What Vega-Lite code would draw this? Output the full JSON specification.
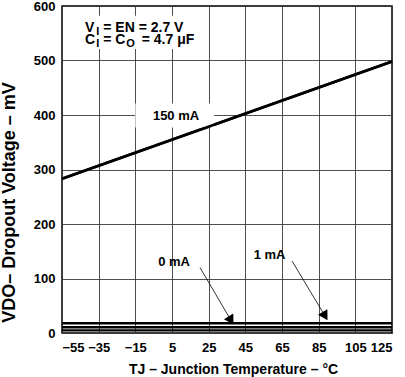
{
  "$schema": "https://vega.github.io/schema/vega-lite/v6.json",
  "autosize": "none",
  "width": 330,
  "height": 327,
  "padding": {"left": 62, "top": 6, "right": 13, "bottom": 44},
  "background": "white",
  "config": {
    "view": {"stroke": "black", "strokeWidth": 1.5},
    "font": "Liberation Sans",
    "axis": {
      "labelFont": "Liberation Sans",
      "labelFontWeight": "bold",
      "labelFontSize": 13,
      "labelColor": "black",
      "titleFont": "Liberation Sans",
      "titleFontWeight": "bold",
      "titleFontSize": 14,
      "titleColor": "black",
      "domain": false,
      "ticks": false,
      "grid": true,
      "gridColor": "#3a3a3a",
      "gridWidth": 0.9
    }
  },
  "datasets": {
    "lines": [
      {"series": "150 mA", "T": -55, "mV": 283},
      {"series": "150 mA", "T": 125, "mV": 498},
      {"series": "1 mA", "T": -55, "mV": 18},
      {"series": "1 mA", "T": 125, "mV": 18},
      {"series": "mid", "T": -55, "mV": 10.5},
      {"series": "mid", "T": 125, "mV": 10.5},
      {"series": "0 mA", "T": -55, "mV": 5},
      {"series": "0 mA", "T": 125, "mV": 5}
    ],
    "box": [
      {"T": -15, "T2": 28, "mV": 377, "mV2": 421},
      {"T": -46, "T2": 20, "mV": 521, "mV2": 582}
    ],
    "labels": [
      {"label": "150 mA", "T": 7.2, "mV": 399},
      {"label": "0 mA", "T": 6.1, "mV": 131},
      {"label": "1 mA", "T": 58.2, "mV": 143}
    ],
    "arrows": [
      {"name": "0 mA", "T": 20.3, "mV": 120, "T2": 37.2, "mV2": 23},
      {"name": "1 mA", "T": 70.5, "mV": 132, "T2": 88.5, "mV2": 31}
    ],
    "heads": [
      {"name": "0 mA", "T": 37.2, "mV": 23},
      {"name": "1 mA", "T": 88.5, "mV": 31}
    ],
    "notes": [
      {"text": "V", "T": -42.5, "mV": 553},
      {"text": "= EN = 2.7 V", "T": -32.5, "mV": 553},
      {"text": "C", "T": -42.5, "mV": 530},
      {"text": "= C", "T": -32.5, "mV": 530},
      {"text": "= 4.7 μF", "T": -11.5, "mV": 530}
    ],
    "subs": [
      {"text": "I", "T": -36.3, "mV": 547},
      {"text": "I", "T": -36.3, "mV": 524},
      {"text": "O", "T": -19.9, "mV": 524}
    ]
  },
  "encoding": {
    "x": {
      "field": "T", "type": "quantitative",
      "scale": {"domain": [-55, 125], "nice": false, "zero": false},
      "axis": {
        "values": [-55, -35, -15, 5, 25, 45, 65, 85, 105, 125],
        "title": "TJ – Junction Temperature – °C",
        "labelPadding": 8,
        "titleY": 40,
        "titleBaseline": "alphabetic",
        "titleX": 171
      }
    },
    "y": {
      "field": "mV", "type": "quantitative",
      "scale": {"domain": [0, 600], "nice": false},
      "axis": {
        "values": [0, 100, 200, 300, 400, 500, 600],
        "title": "VDO– Dropout Voltage – mV",
        "labelPadding": 7,
        "titleFontSize": 18,
        "titleAngle": -90,
        "titleX": -53,
        "titleY": 196,
        "titleBaseline": "middle",
        "titleAlign": "center"
      }
    }
  },
  "layer": [
    {
      "data": {"name": "lines"},
      "mark": {"type": "line", "color": "black"},
      "encoding": {
        "detail": {"field": "series"},
        "strokeWidth": {
          "field": "series", "type": "nominal",
          "scale": {"domain": ["150 mA", "1 mA", "mid", "0 mA"], "range": [2.6, 2.2, 1.2, 2.2]},
          "legend": null
        }
      }
    },
    {
      "data": {"name": "box"},
      "mark": {"type": "rect", "color": "white"},
      "encoding": {
        "x2": {"field": "T2"},
        "y2": {"field": "mV2"}
      }
    },
    {
      "data": {"name": "lines"},
      "transform": [{"filter": "datum.series == '150 mA'"}],
      "mark": {"type": "line", "color": "black", "strokeWidth": 2.6},
      "encoding": {}
    },
    {
      "data": {"name": "arrows"},
      "mark": {"type": "rule", "color": "black", "strokeWidth": 0.8},
      "encoding": {
        "x2": {"field": "T2"},
        "y2": {"field": "mV2"}
      }
    },
    {
      "data": {"name": "heads"},
      "mark": {"type": "point", "shape": "triangle-down", "filled": true, "color": "black", "opacity": 1, "size": 120, "angle": 329},
      "encoding": {}
    },
    {
      "data": {"name": "labels"},
      "mark": {"type": "text", "font": "Liberation Sans", "fontWeight": "bold", "fontSize": 13, "color": "black", "align": "center", "baseline": "middle"},
      "encoding": {
        "text": {"field": "label"}
      }
    },
    {
      "data": {"name": "notes"},
      "mark": {"type": "text", "font": "Liberation Sans", "fontWeight": "bold", "fontSize": 14, "color": "black", "align": "left", "baseline": "alphabetic"},
      "encoding": {
        "text": {"field": "text"}
      }
    },
    {
      "data": {"name": "subs"},
      "mark": {"type": "text", "font": "Liberation Sans", "fontWeight": "bold", "fontSize": 11, "color": "black", "align": "left", "baseline": "alphabetic"},
      "encoding": {
        "text": {"field": "text"}
      }
    }
  ]
}
